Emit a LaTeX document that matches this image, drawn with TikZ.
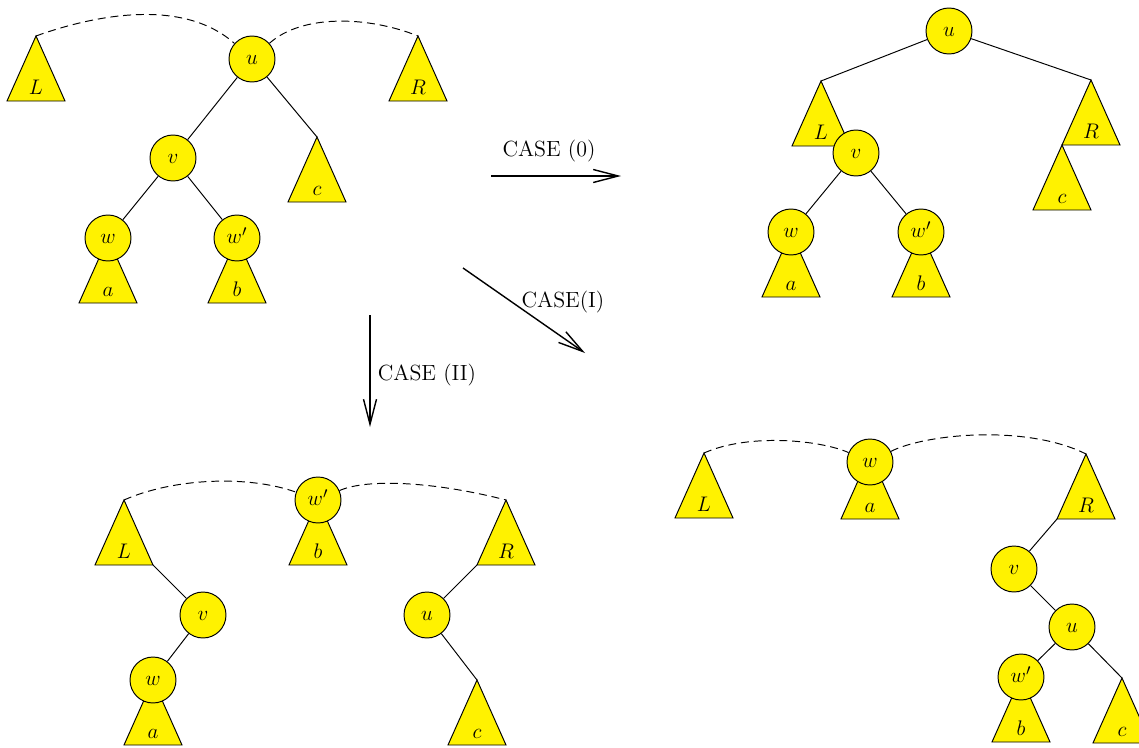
\documentclass[tikz,border=0pt]{standalone}
\usetikzlibrary{arrows.meta}

\tikzset{
  x=0.02cm, y=-0.02cm,
  every node/.style={font=\fontsize{12.5}{15}\selectfont},
  treenode/.style={circle, draw, fill=yellow, minimum size=0.92cm, inner sep=0pt,
                   line width=0.55pt, text height=1.5ex, text depth=0pt},
  subtree/.style={draw, fill=yellow, line width=0.55pt, line join=miter},
  link/.style={line width=0.55pt},
  rootpath/.style={line width=0.55pt, dash pattern=on 4.5pt off 2.8pt},
  casearrow/.style={line width=0.8pt, -{Straight Barb[length=0.5cm, width=0.26cm]}},
  sublabel/.style={anchor=base, inner sep=0pt},
  caselabel/.style={anchor=base, inner sep=0pt},
}

% subtree triangle: name, apex, label
\newcommand\subtree[3]{%
  \coordinate (#1) at (#2);
  \path (#1) ++(-29,65) coordinate (#1-bl) ++(58,0) coordinate (#1-br);
  \draw[subtree] (#1) -- (#1-bl) -- (#1-br) -- cycle;
  \path (#1) ++(0,58.5) node[sublabel] (#1-lab) {$#3$};
}

\begin{document}
\begin{tikzpicture}
\useasboundingbox (0,0) rectangle (1139,747);

% ---------- initial tree ----------
\subtree{L1}{36,36}{L}
\subtree{R1}{418,36}{R}
\subtree{c1}{317,137}{c}
\subtree{a1}{108,238}{a}
\subtree{b1}{237,238}{b}
\node[treenode] (u1) at (252,59) {$u$};
\node[treenode] (v1) at (173,158) {$v$};
\node[treenode] (w1) at (108,238) {$w$};
\node[treenode] (wp1) at (237,238) {$w'$};
\draw[link] (u1) -- (v1);
\draw[link] (u1) -- (c1);
\draw[link] (v1) -- (w1);
\draw[link] (v1) -- (wp1);
\draw[rootpath] (L1) .. controls +(50,-18) and +(-72,-64) .. (u1);
\draw[rootpath] (u1) .. controls +(50,-45) and +(-50,-20) .. (R1);

% ---------- case (0) ----------
\subtree{L2}{821,81}{L}
\subtree{R2}{1091,80}{R}
\subtree{c2}{1062,145}{c}
\subtree{a2}{791,232}{a}
\subtree{b2}{921,232}{b}
\node[treenode] (u2) at (949,31) {$u$};
\node[treenode] (v2) at (856,153) {$v$};
\node[treenode] (w2) at (791,232) {$w$};
\node[treenode] (wp2) at (921,232) {$w'$};
\draw[link] (u2) -- (L2);
\draw[link] (u2) -- (R2);
\draw[link] (v2) -- (w2);
\draw[link] (v2) -- (wp2);

% ---------- case (II) ----------
\subtree{L3}{124,500}{L}
\subtree{b3}{318,500}{b}
\subtree{R3}{506,500}{R}
\subtree{a3}{153,680}{a}
\subtree{c3}{477,680}{c}
\node[treenode] (wp3) at (318,500) {$w'$};
\node[treenode] (v3) at (203,615) {$v$};
\node[treenode] (w3) at (153,680) {$w$};
\node[treenode] (u3) at (427,615) {$u$};
\draw[link] (L3-br) -- (v3);
\draw[link] (v3) -- (w3);
\draw[link] (R3-bl) -- (u3);
\draw[link] (u3) -- (c3);
\draw[rootpath] (L3) .. controls +(50,-22) and +(-70,-25) .. (wp3);
\draw[rootpath] (wp3) .. controls +(50,-22) and +(-70,-18) .. (R3);

% ---------- case (I) ----------
\subtree{L4}{704,453}{L}
\subtree{a4}{870,454}{a}
\subtree{R4}{1086,454}{R}
\subtree{b4}{1021,677}{b}
\subtree{c4}{1122,678}{c}
\node[treenode] (w4) at (870,462) {$w$};
\node[treenode] (v4) at (1014,569) {$v$};
\node[treenode] (u4) at (1072,627) {$u$};
\node[treenode] (wp4) at (1021,677) {$w'$};
\draw[link] (R4-bl) -- (v4);
\draw[link] (v4) -- (u4);
\draw[link] (u4) -- (wp4);
\draw[link] (u4) -- (c4);
\draw[rootpath] (L4) .. controls +(45,-20) and +(-50,-22) .. (w4);
\draw[rootpath] (w4) .. controls +(55,-28) and +(-60,-30) .. (R4);

% ---------- transformation arrows ----------
\coordinate (k0s) at (491,176);
\coordinate (k0e) at (621,176);
\draw[casearrow] (k0s) -- (k0e);
\node[caselabel] (k0lab) at (549,156) {CASE (0)};

\coordinate (k1s) at (463,268);
\coordinate (k1e) at (585,353);
\draw[casearrow] (k1s) -- (k1e);
\node[caselabel] (k1lab) at (563,307) {CASE(I)};

\coordinate (k2s) at (370,315);
\coordinate (k2e) at (370,427);
\draw[casearrow] (k2s) -- (k2e);
\node[caselabel] (k2lab) at (427,380) {CASE (II)};
\end{tikzpicture}
\end{document}
